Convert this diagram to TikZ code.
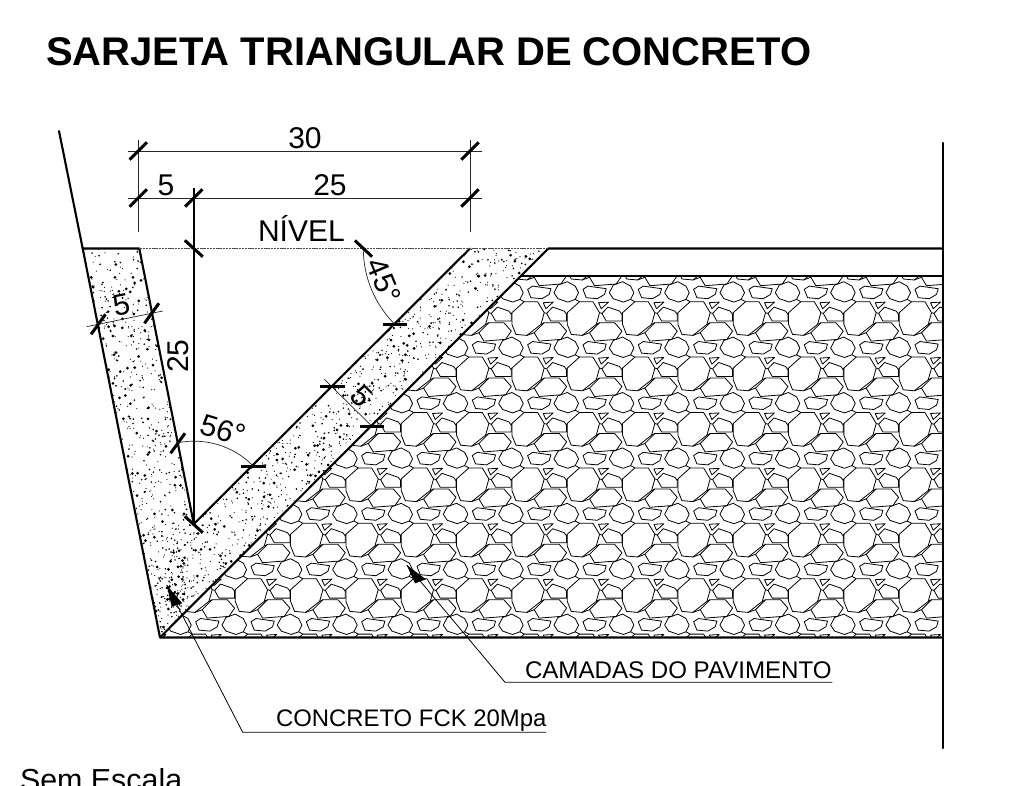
\documentclass[tikz,border=0pt]{standalone}
\usepackage{fontspec}
\setmainfont{Liberation Sans}
\newcommand{\fsz}[1]{\fontsize{#1}{#1}\selectfont}
\tikzset{
  outline/.style={line width=2.1pt,line cap=round,line join=round,black},
  dimline/.style={line width=0.7pt,black!85},
  tick/.style={line width=3pt,black},
  leader/.style={line width=0.8pt,black},
  stoneline/.style={line width=0.8pt,black,line join=round},
  lbl/.style={inner sep=0pt,outer sep=0pt,text=black},
  stonetile/.pic={
    \draw[stoneline] (2.7,23.3)--(6.7,15.7)--(16,12.3)--(24,16.7)--(27.3,23.3)--(24,30)--(16.7,32.7)--(6.7,29.3)--cycle;
    \draw[stoneline] (31.7,20)--(36.7,16.7)--(55,19.3)--(53.3,25)--(46,29.3)--(35,28.3)--cycle;
    \draw[stoneline] (16,43.3)--(28.3,32.3)--(41.7,32.3)--(48.3,43.3)--(45,55)--(31,66)--(20,65)--(16,55)--cycle;
    \draw[stoneline] (47.3,33.3)--(57.3,32.7)--(50,39.3)--cycle;
    \draw[stoneline] (50.7,44)--(56.7,37.7)--(68.3,41.7)--(70.7,45)--(70.7,51.7)--(55,51.7)--cycle;
    \draw[stoneline] (38.3,63.3)--(48.3,53.3)--(63.3,53.3)--(70.7,61.7)--(65,70)--(43.3,71.7)--cycle;
    \draw[stoneline] (48.3,43.3)--(50.7,44) (45,55)--(48.3,53.3) (31,66)--(38.3,63.3) (28.3,32.3)--(24,30) (70.7,45)--(71.3,43.3);
  }
}
\begin{document}
\begin{tikzpicture}[x=1pt,y=-1pt]
\useasboundingbox (0,0) rectangle (1018,786);
% main points
\coordinate (wallTop) at (59,131);
\coordinate (outerTop) at (82.7,248.5);
\coordinate (innerTop) at (139.3,248.5);
\coordinate (vee) at (193.8,524);
\coordinate (slopeTop) at (470,248.5);
\coordinate (slopeOut) at (548.3,248.5);
\coordinate (corner) at (160,637.5);
\coordinate (baseEnd) at (943,637.5);
\coordinate (layerStart) at (521,276);
\coordinate (layerEnd) at (943,276);
\coordinate (levelEnd) at (943,248.5);
\coordinate (edgeTop) at (943,143);
\coordinate (edgeBot) at (943,748);
% pavement stones
\begin{scope}
\clip (layerStart)--(layerEnd)--(baseEnd)--(corner)--cycle;
\foreach \i in {-1,...,14}{
  \foreach \j in {0,...,7}{
    \pic at ({108.6+\i*55.33},{214+\j*55.4}) {stonetile};
  }
}
\end{scope}
% concrete speckle
\begin{scope}
\clip (outerTop)--(innerTop)--(vee)--(slopeTop)--(slopeOut)--(corner)--cycle;
\pgfmathsetseed{4217}
\foreach \k in {1,...,620}{
  \pgfmathsetmacro{\t}{rnd}\pgfmathsetmacro{\w}{rnd}\pgfmathsetmacro{\q}{rnd}
  \pgfmathsetmacro{\rr}{\q<0.6?0.6:(\q<0.88?0.9:1.5)}
  \fill[black] ({82.7+\t*77.3+\w*56.6},{248.5+\t*389}) circle (\rr pt);
}
\foreach \k in {1,...,950}{
  \pgfmathsetmacro{\t}{rnd}\pgfmathsetmacro{\w}{rnd}\pgfmathsetmacro{\q}{rnd}
  \pgfmathsetmacro{\rr}{\q<0.6?0.6:(\q<0.88?0.9:1.5)}
  \fill[black] ({470-\t*389+\w*78.3},{248.5+\t*389}) circle (\rr pt);
}
\end{scope}
% section outlines
\draw[outline] (wallTop)--(outerTop)--(corner)--(baseEnd);
\draw[outline] (outerTop)--(innerTop)--(vee)--(slopeTop);
\draw[outline] (corner)--(slopeOut)--(levelEnd);
\draw[outline] (layerStart)--(layerEnd);
\draw[outline] (edgeTop)--(edgeBot);
\draw[line width=0.8pt,black!70,dash pattern=on 2.5pt off 0.7pt] (innerTop)--(slopeOut);
% horizontal dimensions
\coordinate (dA1) at (128,151);\coordinate (dA2) at (481.7,151);
\coordinate (dB1) at (128,198);\coordinate (dB2) at (481.7,198);
\draw[dimline] (dA1)--(dA2);
\draw[dimline] (dB1)--(dB2);
\coordinate (eL1) at (138.3,140);\coordinate (eL2) at (138.3,232);
\coordinate (eR1) at (470,140);\coordinate (eR2) at (470,232);
\draw[dimline] (eL1)--(eL2);
\draw[dimline] (eR1)--(eR2);
\foreach \p in {(138.3,151),(470,151),(138.3,198),(470,198),(193.8,198)}{
  \draw[tick] \p ++(-8.7,8.7) -- ++(17.4,-17.4);
}
% vertical 25
\coordinate (vTop) at (193.8,188);
\draw[line width=1.8pt] (vTop)--(vee);
\foreach \p in {(193.8,248.5),(193.8,524.5)}{
  \draw[tick] \p ++(-9,-8.2) -- ++(18,16.4);
}
% wall thickness 5
\coordinate (wA) at (86.7,326.7);\coordinate (wB) at (162.7,311);
\draw[dimline] (wA)--(wB);
\foreach \p in {(98.3,324.3),(151.7,313.3),(177.8,443.3)}{
  \draw[tick] \p ++(-7.2,10) -- ++(14.4,-20);
}
% slope thickness 5
\coordinate (sA) at (324.3,379.3);\coordinate (sB) at (371.7,426);
\draw[dimline] (sA)--(sB);
\foreach \p in {(332.3,386.7),(371.7,426),(253.3,466),(394.7,324.3)}{
  \draw[tick] \p ++(-12.2,0) -- ++(24.4,0);
}
% angle arcs
\coordinate (arcA) at (363.3,248.5);
\coordinate (arcB) at (253.3,466);
\draw[dimline] (arcA) arc[start angle=180,end angle=225,radius=106.7pt];
\draw[dimline] (arcB) arc[start angle=44.5,end angle=101.5,radius=83pt];
\draw[tick] (arcA) ++(-8.4,-8) -- ++(17.2,16.2);
% leaders
\coordinate (tipC) at (166.7,585);\coordinate (bendC) at (242.7,732.3);\coordinate (endC) at (546,732.3);
\coordinate (tipP) at (406.7,565);\coordinate (bendP) at (505,682.3);\coordinate (endP) at (832.3,682.3);
\draw[leader] (tipC)--(bendC)--(endC);
\draw[leader] (tipP)--(bendP)--(endP);
\fill[black] (tipC)--(171.7,606.7)--(182.3,603.3)--cycle;
\fill[black] (tipP)--(415,583.3)--(426,579.3)--cycle;
% texts
\node[lbl,anchor=base west] (title) at (46,66) {\fsz{40}\bfseries SARJETA TRIANGULAR DE CONCRETO};
\node[lbl] (t30) at (305,138) {\fsz{30}30};
\node[lbl] (t5a) at (166,185) {\fsz{30}5};
\node[lbl] (t25a) at (330,185) {\fsz{30}25};
\node[lbl,anchor=base west] (tniv) at (258,242) {\fsz{30}NÍVEL};
\node[lbl,rotate=11] (t5b) at (121.7,305) {\fsz{30}5};
\node[lbl,rotate=90] (t25b) at (178,356) {\fsz{30}25};
\node[lbl,rotate=-45] (t5c) at (361.7,396) {\fsz{30}5};
\node[lbl,rotate=-67.5] (t45) at (384,281) {\fsz{30}45°};
\node[lbl,rotate=-17] (t56) at (223,430) {\fsz{30}56°};
\node[lbl,anchor=base west] (tcam) at (525,678.3) {\fsz{24.1}CAMADAS DO PAVIMENTO};
\node[lbl,anchor=base west] (tcon) at (276,726.7) {\fsz{23.9}CONCRETO FCK 20Mpa};
\node[lbl,anchor=base west] (tsem) at (20,790) {\fsz{30.4}Sem Escala};
\end{tikzpicture}
\end{document}
